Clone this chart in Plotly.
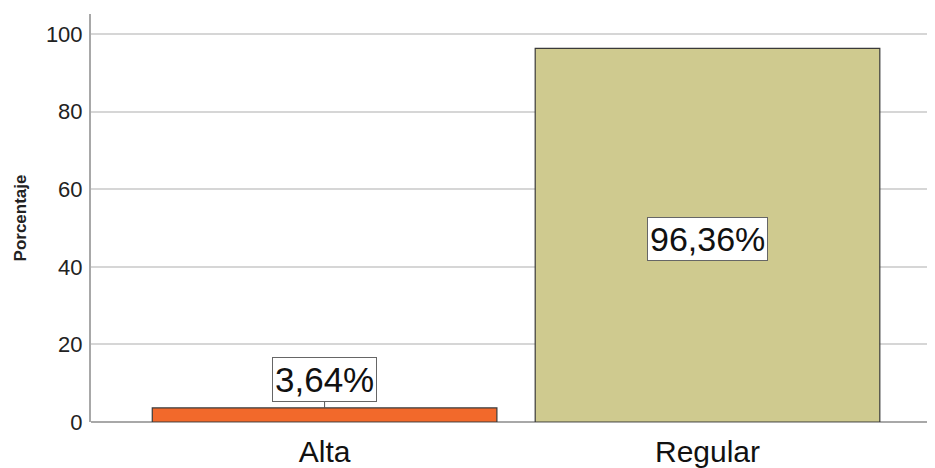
import plotly.graph_objects as go

categories = ["Alta", "Regular"]
values = [3.64, 96.36]
labels = ["3,64%", "96,36%"]
colors = ["#F2692B", "#CFCA8F"]
yticks = [0, 20, 40, 60, 80, 100]

FONT = "Liberation Sans, Arial, sans-serif"

fig = go.Figure()
fig.add_trace(go.Bar(
    x=categories, y=values, width=0.9,
    marker=dict(color=colors, line=dict(color="#3a3a3a", width=1.2)),
    hoverinfo="skip",
))

# labels
fig.add_annotation(x=categories[0], y=values[0], text=labels[0],
                   showarrow=True, arrowhead=0, arrowwidth=1, arrowcolor="#555",
                   ax=0, ay=-28, font=dict(family=FONT, size=35, color="#111"),
                   bgcolor="white", bordercolor="#666", borderwidth=1, borderpad=2)
fig.add_annotation(x=categories[1], y=values[1] / 2, text=labels[1],
                   showarrow=False, yshift=-4,
                   font=dict(family=FONT, size=34, color="#111"),
                   bgcolor="white", bordercolor="#666", borderwidth=1, borderpad=2)

fig.update_layout(
    width=935, height=468,
    margin=dict(l=83, r=0, t=6, b=54),
    paper_bgcolor="white", plot_bgcolor="white",
    showlegend=False,
    font=dict(family=FONT, color="#222"),
    xaxis=dict(range=[-0.61, 1.615], showgrid=False, showline=False,
               ticks="", ticklabelstandoff=9,
               tickfont=dict(size=30, color="#111"), zeroline=False),
    yaxis=dict(range=[0, 105.2], tickvals=yticks, showgrid=True,
               gridcolor="#D6D6D6", gridwidth=1.5,
               showline=True, linecolor="#A8A8A8", linewidth=2,
               zeroline=True, zerolinecolor="#A8A8A8", zerolinewidth=2,
               ticks="", ticklabelstandoff=2, tickfont=dict(size=22, color="#222"),
               title=dict(text="<b>Porcentaje</b>", font=dict(size=17, color="#222"), standoff=15)),
)

fig.write_html("out.html")
